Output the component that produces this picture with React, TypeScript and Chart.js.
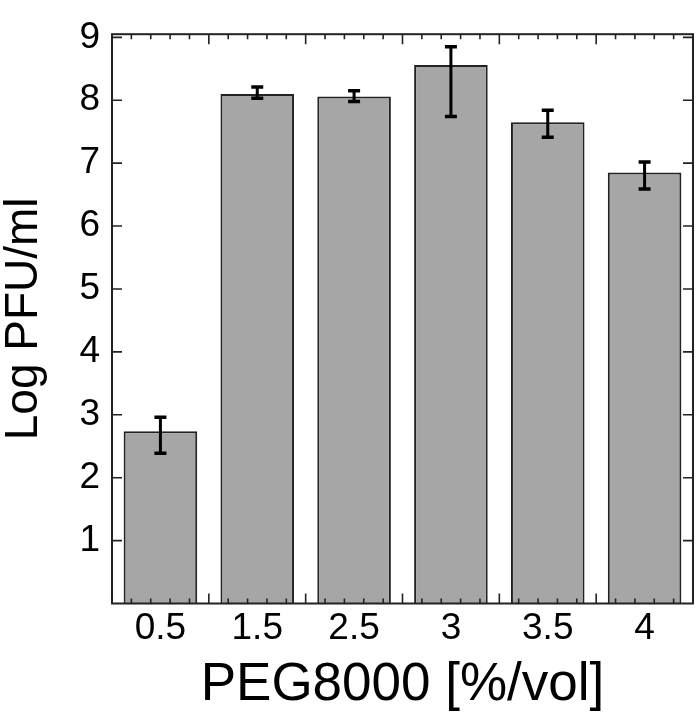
import React, { useEffect, useRef } from "react";
import { Chart, registerables } from "chart.js";

Chart.register(...registerables);

const categories = ["0.5", "1.5", "2.5", "3", "3.5", "4"];
const means = [2.74, 8.1, 8.06, 8.56, 7.65, 6.85];
const errHigh = [2.96, 8.21, 8.15, 8.85, 7.84, 7.02];
const errLow = [2.39, 8.03, 7.98, 7.74, 7.41, 6.59];
const yTickValues = [1, 2, 3, 4, 5, 6, 7, 8, 9];
const xTitle = "PEG8000 [%/vol]";
const yTitle = "Log PFU/ml";

const FONT = "'Liberation Sans', Arial, sans-serif";

const decorPlugin = {
  id: "decor",
  afterDatasetsDraw(chart: any) {
    const { ctx, chartArea } = chart;
    const x = chart.scales.x;
    const y = chart.scales.y;
    const meta = chart.getDatasetMeta(0);
    ctx.save();
    // error bars
    ctx.strokeStyle = "#000";
    ctx.lineCap = "butt";
    meta.data.forEach((bar: any, i: number) => {
      const cx = bar.x;
      const yt = y.getPixelForValue(errHigh[i]);
      const yb = y.getPixelForValue(errLow[i]);
      ctx.lineWidth = 3;
      ctx.beginPath();
      ctx.moveTo(cx, yt);
      ctx.lineTo(cx, yb);
      ctx.stroke();
      ctx.lineWidth = 3.5;
      ctx.beginPath();
      ctx.moveTo(cx - 6, yt);
      ctx.lineTo(cx + 6, yt);
      ctx.moveTo(cx - 6, yb);
      ctx.lineTo(cx + 6, yb);
      ctx.stroke();
    });
    // frame
    const { left, right, top, bottom } = chartArea;
    ctx.strokeStyle = "#222";
    ctx.lineWidth = 2;
    ctx.strokeRect(left, top, right - left, bottom - top);
    // y ticks (both sides, inward)
    ctx.lineWidth = 1.6;
    ctx.beginPath();
    y.ticks.forEach((t: any) => {
      const py = y.getPixelForValue(t.value);
      ctx.moveTo(left, py);
      ctx.lineTo(left + 10, py);
      ctx.moveTo(right, py);
      ctx.lineTo(right - 10, py);
    });
    ctx.stroke();
    // x ticks: major at category boundaries, 4 minor between
    const n = categories.length;
    const step = x.getPixelForValue(1) - x.getPixelForValue(0);
    const start = x.getPixelForValue(0) - step / 2;
    ctx.beginPath();
    for (let k = 0; k <= n; k++) {
      for (let m = 0; m < 5; m++) {
        if (k === n && m > 0) break;
        const px = start + k * step + (m * step) / 5;
        const len = m === 0 ? 10 : 5;
        ctx.moveTo(px, bottom);
        ctx.lineTo(px, bottom - len);
        ctx.moveTo(px, top);
        ctx.lineTo(px, top + len);
      }
    }
    ctx.stroke();
    ctx.restore();
  },
};

export default function App() {
  const ref = useRef<HTMLCanvasElement | null>(null);
  useEffect(() => {
    document.body.style.margin = "0";
    if (!ref.current) return;
    const chart = new Chart(ref.current, {
      type: "bar",
      data: {
        labels: categories,
        datasets: [
          {
            data: means,
            backgroundColor: "#a6a6a6",
            borderColor: "#222",
            borderWidth: 2,
            barPercentage: 0.76,
            categoryPercentage: 1,
          },
        ],
      },
      options: {
        animation: false,
        responsive: false,
        maintainAspectRatio: false,
        layout: { padding: { top: 16, right: 7, left: 0, bottom: 0 } },
        plugins: { legend: { display: false }, tooltip: { enabled: false } },
        scales: {
          x: {
            grid: { display: false, drawTicks: false },
            border: { display: false },
            ticks: {
              color: "#000",
              font: { family: FONT, size: 37 },
              padding: 3,
              maxRotation: 0,
            },
            title: {
              display: true,
              text: xTitle,
              color: "#000",
              font: { family: FONT, size: 53, lineHeight: 1 },
              padding: { top: 0, bottom: 10 },
            },
            afterFit: (s: any) => {
              s.height = 118.5;
            },
          },
          y: {
            min: 0,
            max: 9.05,
            grid: { display: false, drawTicks: false },
            border: { display: false },
            afterBuildTicks: (s: any) => {
              s.ticks = yTickValues.map((v) => ({ value: v }));
            },
            ticks: {
              color: "#000",
              font: { family: FONT, size: 37 },
              padding: 12,
              callback: (v: any) => String(v),
            },
            title: {
              display: true,
              text: yTitle,
              color: "#000",
              font: { family: FONT, size: 46, lineHeight: 1 },
              padding: { top: 1, bottom: 0 },
            },
            afterFit: (s: any) => {
              s.width = 112;
            },
          },
        },
      },
      plugins: [decorPlugin],
    });
    return () => chart.destroy();
  }, []);
  return (
    <div style={{ width: 700, height: 722, background: "#fff" }}>
      <canvas ref={ref} width={700} height={722} style={{ display: "block" }} />
    </div>
  );
}
